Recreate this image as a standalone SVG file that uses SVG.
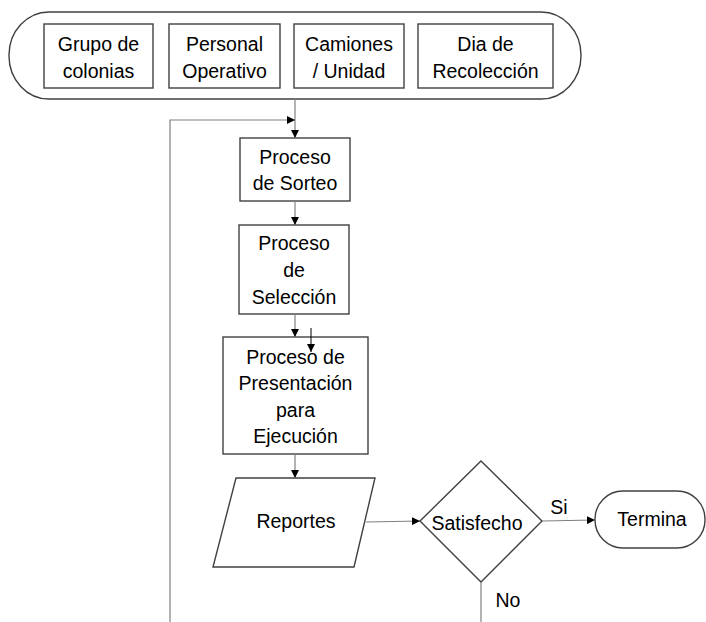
<svg xmlns="http://www.w3.org/2000/svg" width="706" height="622" viewBox="0 0 706 622">
<defs>
<marker id="ah" viewBox="0 0 10 10" refX="10" refY="5" markerWidth="8" markerHeight="8" markerUnits="userSpaceOnUse" orient="auto">
<path d="M0,0 L10,5 L0,10 z" fill="#000"/>
</marker>
<style>
.box{fill:#fff;stroke:#404040;stroke-width:1.4}
.t{font-family:"Liberation Sans",Arial,sans-serif;font-size:19.5px;fill:#000;text-anchor:middle}
.c{fill:none;stroke:#808080;stroke-width:1.2}
.k{fill:none;stroke:#000;stroke-width:1}
</style>
</defs>
<rect width="706" height="622" fill="#fff"/>
<g id="container">
<rect class="box" x="9" y="12" width="572" height="87" rx="40" ry="43"/>
</g>
<g id="grupo"><rect class="box" x="44" y="24" width="109" height="64"/><text class="t" x="98.5" y="51">Grupo de</text><text class="t" x="98.5" y="78">colonias</text></g>
<g id="personal"><rect class="box" x="169" y="24" width="111" height="64"/><text class="t" x="224.5" y="51">Personal</text><text class="t" x="224.5" y="78">Operativo</text></g>
<g id="camiones"><rect class="box" x="294" y="24" width="110" height="64"/><text class="t" x="349" y="51">Camiones</text><text class="t" x="349" y="78">/ Unidad</text></g>
<g id="dia"><rect class="box" x="418" y="24" width="135" height="64"/><text class="t" x="485.5" y="51">Dia de</text><text class="t" x="485.5" y="78">Recolección</text></g>
<g id="sorteo"><rect class="box" x="240" y="138" width="110" height="63"/><text class="t" x="295" y="164">Proceso</text><text class="t" x="295" y="190">de Sorteo</text></g>
<g id="seleccion"><rect class="box" x="239" y="225" width="110" height="89"/><text class="t" x="294" y="250">Proceso</text><text class="t" x="294" y="277">de</text><text class="t" x="294" y="304">Selección</text></g>
<g id="presentacion"><rect class="box" x="223" y="337" width="145" height="117"/><text class="t" x="295.5" y="364">Proceso de</text><text class="t" x="295.5" y="390">Presentación</text><text class="t" x="295.5" y="417">para</text><text class="t" x="295.5" y="443">Ejecución</text></g>
<g id="reportes"><polygon class="box" points="236,478 375,478 354,567 213,567"/><text class="t" x="296" y="528">Reportes</text></g>
<g id="satisfecho"><polygon class="box" points="481,461 542,521 481,582 420,521"/><text class="t" x="477" y="530">Satisfecho</text></g>
<g id="termina"><rect class="box" x="595" y="491" width="110" height="57" rx="28" ry="28"/><text class="t" x="652" y="526">Termina</text></g>
<g id="connectors">
<line class="c" x1="295" y1="99" x2="295" y2="138" marker-end="url(#ah)"/>
<polyline class="c" points="170,622 170,120 295,120" marker-end="url(#ah)"/>
<line class="c" x1="295" y1="201" x2="295" y2="225" marker-end="url(#ah)"/>
<line class="c" x1="295" y1="314" x2="295" y2="337" marker-end="url(#ah)"/>
<line class="k" x1="311" y1="328" x2="311" y2="352" marker-end="url(#ah)"/>
<line class="c" x1="295" y1="454" x2="295" y2="478" marker-end="url(#ah)"/>
<line class="c" x1="366" y1="522" x2="420" y2="521" marker-end="url(#ah)"/>
<line class="c" x1="542" y1="521" x2="595" y2="520" marker-end="url(#ah)"/>
<line class="c" x1="481" y1="582" x2="481" y2="622"/>
<text class="t" x="559" y="514">Si</text>
<text class="t" x="508" y="607">No</text>
</g>
</svg>
